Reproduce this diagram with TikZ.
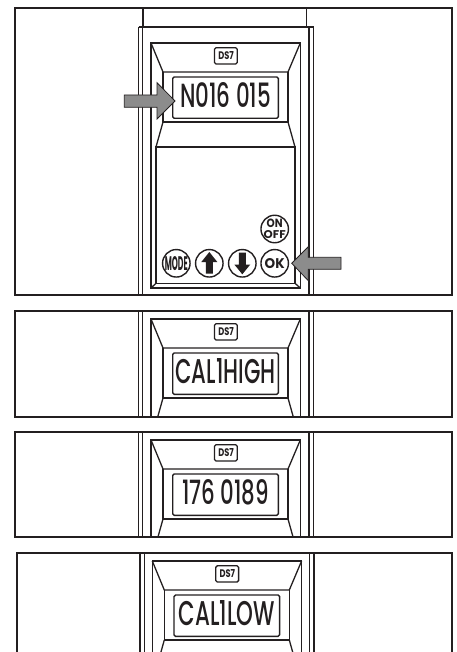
\documentclass[tikz,border=0pt]{standalone}
\usepackage{fontspec}
\usepackage{graphicx}
\setmainfont{Poppins}
\newfontfamily\lcdfont{Poppins Medium}
\definecolor{ink}{HTML}{231F20}
\tikzset{
  frame/.style={draw=ink,line width=1.8pt},
  rail/.style={draw=ink,line width=1.3pt},
  bez/.style={draw=ink,line width=1.3pt},
  lcdbox/.style={draw=ink,line width=1.4pt,rounded corners=1.5pt},
  badgebox/.style={draw=ink,line width=1.3pt,rounded corners=1.5pt,fill=white},
  lbl/.style={inner sep=0pt,outer sep=0pt,text=ink},
  btn/.style={draw=ink,line width=1.4pt,fill=white,circle,minimum size=27.5pt,inner sep=0pt},
  bigarrow/.style={draw=ink,line width=0.8pt,fill=black!45,line join=miter},
  blockarrow/.style={fill=ink,draw=none}
}
\newcommand{\fitbox}[3]{\resizebox{#1pt}{#2pt}{#3}}
% #1 name prefix, #2 text width, #3 text
\newcommand{\devhead}[3]{%
  \draw[bez] (151,148) -- (151,43) -- (300.3,43) -- (300.3,148);
  \draw[bez] (151,43) -- (163,72) -- (288,72) -- (300.3,43);
  \draw[bez] (163,72) -- (163,122) -- (288,122) -- (288,72);
  \draw[bez] (163,122) -- (156,147);
  \draw[bez] (288,122) -- (295,147);
  \draw[badgebox] (214.5,47.8) rectangle (237.3,64);
  \node[lbl] (#1badge) at (226,55.8) {\fitbox{15.5}{8}{\textbf{DS7}}};
  \draw[lcdbox] (172.7,77) rectangle (278.3,118.3);
  \node[lbl] (#1lcd) at (225.5,95.5) {\fitbox{#2}{25}{\lcdfont #3}};
}
\begin{document}
\begin{tikzpicture}[x=1pt,y=-1pt]
\useasboundingbox (0,0) rectangle (456,652);
% panel 1
\draw[frame] (15,8) rectangle (451.7,295);
\draw[rail] (143,8) -- (143,27);
\draw[rail] (306.5,8) -- (306.5,27);
\draw[draw=ink,line width=1.8pt] (138.5,27) -- (313.5,27);
\foreach \x in {138.5,142.7,309,313.5} \draw[rail] (\x,27) -- (\x,295);
\devhead{a}{91}{N016 015}
\draw[bez] (151,148) -- (151,288) -- (300.3,288) -- (300.3,148);
\draw[bez] (156,147) -- (295,147) -- (295,283.3) -- (156,283.3) -- cycle;
\draw[bez] (151,288) -- (156,283.3);
\draw[bez] (300.3,288) -- (295,283.3);
% buttons
\node[btn] (onoff) at (274.7,229) {};
\node[lbl] (ont) at (274.7,223) {\fitbox{16}{8.5}{\textbf{ON}}};
\node[lbl] (offt) at (274.7,234.5) {\fitbox{22}{8}{\textbf{OFF}}};
\node[btn] (ok) at (274.7,263.3) {};
\node[lbl] (okt) at (274.7,263.3) {\fitbox{20}{10}{\textbf{OK}}};
\node[btn] (down) at (242.3,263.3) {};
\node[btn] (up) at (209.3,263.3) {};
\node[btn] (mode) at (176.3,263.3) {};
\node[lbl] (modet) at (176.3,263.3) {\fitbox{23}{14}{\textbf{MODE}}};
\fill[blockarrow] (209.3,252) -- (217.3,262) -- (212.8,262) -- (212.8,273.5) -- (205.8,273.5) -- (205.8,262) -- (201.3,262) -- cycle;
\fill[blockarrow] (242.3,274.3) -- (250.3,264.5) -- (245.8,264.5) -- (245.8,252.5) -- (238.8,252.5) -- (238.8,264.5) -- (234.3,264.5) -- cycle;
% grey arrows
\draw[bigarrow] (124.3,95) -- (157,95) -- (157,82.7) -- (175,101) -- (157,119) -- (157,107.3) -- (124.3,107.3) -- cycle;
\draw[bigarrow] (341,257.3) -- (308.3,257.3) -- (308.3,246.7) -- (291.7,263.3) -- (308.3,280.7) -- (308.3,269.3) -- (341,269.3) -- cycle;
% panel 2
\draw[frame] (15,311) rectangle (451.7,416.7);
\foreach \x in {138.5,142.7,309,313.5} \draw[rail] (\x,311) -- (\x,416.7);
\begin{scope}
\clip (15,311) rectangle (451.7,416.7);
\begin{scope}[shift={(0,276)}]
\devhead{b}{100}{CAL1HIGH}
\end{scope}
\end{scope}
% panel 3
\draw[frame] (15,431.7) rectangle (451.7,537);
\foreach \x in {138.5,142.7,309,313.5} \draw[rail] (\x,431.7) -- (\x,537);
\begin{scope}
\clip (15,431.7) rectangle (451.7,537);
\begin{scope}[shift={(0,397)}]
\devhead{c}{87}{176 0189}
\end{scope}
\end{scope}
% panel 4
\draw[frame] (17,652) -- (17,552.7) -- (451.7,552.7) -- (451.7,652);
\foreach \x in {140,144.7,309.7,314} \draw[rail] (\x,552.7) -- (\x,652);
\begin{scope}
\clip (17,552.7) rectangle (451.7,652);
\begin{scope}[shift={(1.3,518)}]
\devhead{d}{96}{CAL1LOW}
\end{scope}
\end{scope}
\end{tikzpicture}
\end{document}
